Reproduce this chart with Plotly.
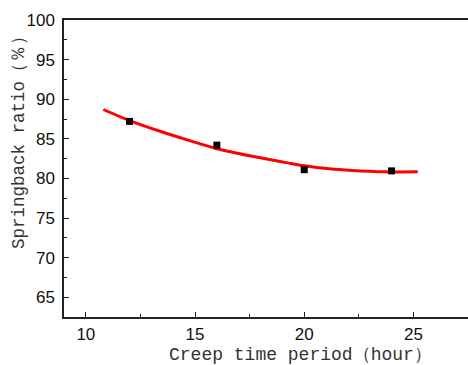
import plotly.graph_objects as go

# Measured data
creep_hours = [12, 16, 20, 24]
springback = [87.2, 84.2, 81.1, 80.95]

# Fitted curve
fit_hours = [10.8, 12, 13.4, 14.75, 16, 17.5, 19.3, 20, 21.15, 22.2, 23.7, 25.2]
fit_ratio = [88.7, 87.3, 85.95, 84.77, 83.75, 82.86, 81.93, 81.6, 81.21, 81.0, 80.83, 80.83]

x_title = "Creep time period（hour）"
y_title = "Springback ratio（％）"

fig = go.Figure()
fig.add_trace(go.Scatter(x=fit_hours, y=fit_ratio, mode="lines",
                         line=dict(color="#ff0000", width=3, shape="spline", smoothing=0.8),
                         showlegend=False))
fig.add_trace(go.Scatter(x=creep_hours, y=springback, mode="markers",
                         marker=dict(symbol="square", size=7, color="black"),
                         showlegend=False))

axis_common = dict(showline=True, linewidth=1.5, linecolor="#222",
                   ticks="inside", ticklen=5, tickwidth=1, tickcolor="#222",
                   showgrid=False, zeroline=False,
                   tickfont=dict(family="Liberation Sans, Arial, sans-serif", size=17, color="#111"))

fig.update_layout(
    width=468, height=365,
    margin=dict(l=64, r=0, t=20, b=48),
    plot_bgcolor="white", paper_bgcolor="white",
    xaxis=dict(range=[9, 27.5], tickvals=[10, 15, 20, 25], mirror=True,
               minor=dict(dtick=2.5, tick0=10, ticks="inside", ticklen=3, tickcolor="#222"),
               ticklabelstandoff=1, **axis_common),
    yaxis=dict(range=[62.5, 100], tickvals=[65, 70, 75, 80, 85, 90, 95, 100],
               minor=dict(dtick=2.5, tick0=62.5, ticks="inside", ticklen=3, tickcolor="#222"),
               ticklabelstandoff=4, **axis_common),
    annotations=[
        dict(text=x_title, xref="paper", yref="paper", x=(300 - 64) / 404, y=-38 / 297,
             xanchor="center", yanchor="middle", showarrow=False,
             font=dict(family="Liberation Mono, monospace", size=18, color="#333")),
        dict(text=y_title, xref="paper", yref="paper", x=-45 / 404, y=(317 - 138) / 297,
             xanchor="center", yanchor="middle", showarrow=False, textangle=-90,
             font=dict(family="Liberation Mono, monospace", size=17.5, color="#333")),
    ],
)

fig.write_html("out.html", config={"displayModeBar": False},
               post_script="document.body.style.margin='0';")
